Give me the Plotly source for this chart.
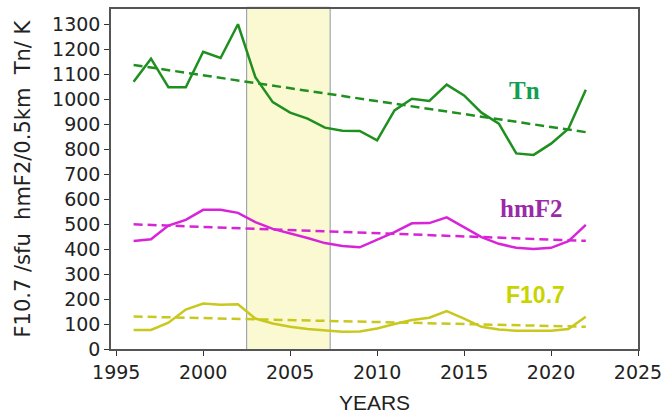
import plotly.graph_objects as go

years = list(range(1996, 2023))
tn = [1070, 1162, 1048, 1048, 1190, 1165, 1300, 1088, 988, 946, 922, 886, 874, 873,
      835, 955, 1002, 993, 1058, 1015, 946, 902, 783, 777, 822, 882, 1038]
hmf2 = [432, 439, 494, 517, 557, 557, 545, 508, 481, 464, 444, 424, 412, 407,
        436, 468, 503, 504, 527, 488, 448, 421, 405, 400, 405, 432, 497]
f107 = [76, 76, 105, 158, 182, 177, 179, 122, 102, 89, 80, 73, 69, 70,
        82, 100, 116, 125, 152, 122, 89, 78, 73, 73, 73, 80, 129]
trend_years = [1996, 2022]
tn_trend = [1137, 868]
hmf2_trend = [499, 433]
f107_trend = [130, 89]
shade_years = [2002.5, 2007.3]
y_ticks = list(range(0, 1301, 100))
x_ticks = list(range(1995, 2026, 5))

C_TN = "#1f8f1f"
C_HM = "#d824d8"
C_F = "#c8c81e"

W, H = 669, 418
ML, MR, MT, MB = 111, 28, 7, 69

fig = go.Figure()
for vals, trend, c in [(tn, tn_trend, C_TN), (hmf2, hmf2_trend, C_HM), (f107, f107_trend, C_F)]:
    fig.add_trace(go.Scatter(x=years, y=vals, mode="lines",
                             line=dict(color=c, width=2.5), showlegend=False))
    fig.add_trace(go.Scatter(x=trend_years, y=trend, mode="lines",
                             line=dict(color=c, width=2.5, dash="9px,5px"), showlegend=False))

fig.add_shape(type="rect", xref="x", yref="paper", x0=shade_years[0], x1=shade_years[1],
              y0=-0.004, y1=1.005, fillcolor="#fbf9d2",
              line=dict(color="#8a97a8", width=1), layer="below")

fig.add_annotation(x=2018.5, y=1036, text="<b>Tn</b>", showarrow=False,
                   font=dict(family="Liberation Serif", size=25, color="#12a050"))
fig.add_annotation(x=2018.9, y=564, text="<b>hmF2</b>", showarrow=False,
                   font=dict(family="Liberation Serif", size=25, color="#9a2aa8"))
fig.add_annotation(x=2019.1, y=216, text="<b>F10.7</b>", showarrow=False,
                   font=dict(family="Liberation Sans", size=23, color="#c8d400"))
fig.add_annotation(x=(22 - ML) / (W - ML - MR), y=(H - MB - 178) / (H - MB - MT),
                   xref="paper", yref="paper", text="F10.7 /sfu  hmF2/0.5km  Tn/ K",
                   textangle=-90, showarrow=False, xanchor="center", yanchor="middle",
                   font=dict(family="DejaVu Sans", size=21, color="#222"))

fig.update_layout(
    width=W, height=H,
    margin=dict(l=ML, r=MR, t=MT, b=MB),
    plot_bgcolor="white", paper_bgcolor="white",
    xaxis=dict(range=[1994.7, 2025.0], tickvals=x_ticks, ticks="outside", ticklen=5,
               tickcolor="#333", showgrid=False, zeroline=False, showline=True,
               linecolor="#555", linewidth=1.5, mirror=True,
               tickfont=dict(family="DejaVu Sans", size=19, color="#222"),
               title=dict(text="YEARS", font=dict(family="Liberation Sans", size=21, color="#222"),
                          standoff=14)),
    yaxis=dict(range=[0, 1361], tickvals=y_ticks, ticks="outside", ticklen=5,
               tickcolor="#333", showgrid=False, zeroline=False, showline=True,
               linecolor="#555", linewidth=1.5, mirror=True,
               tickfont=dict(family="DejaVu Sans", size=19, color="#222")),
)

fig.write_html("out.html")
